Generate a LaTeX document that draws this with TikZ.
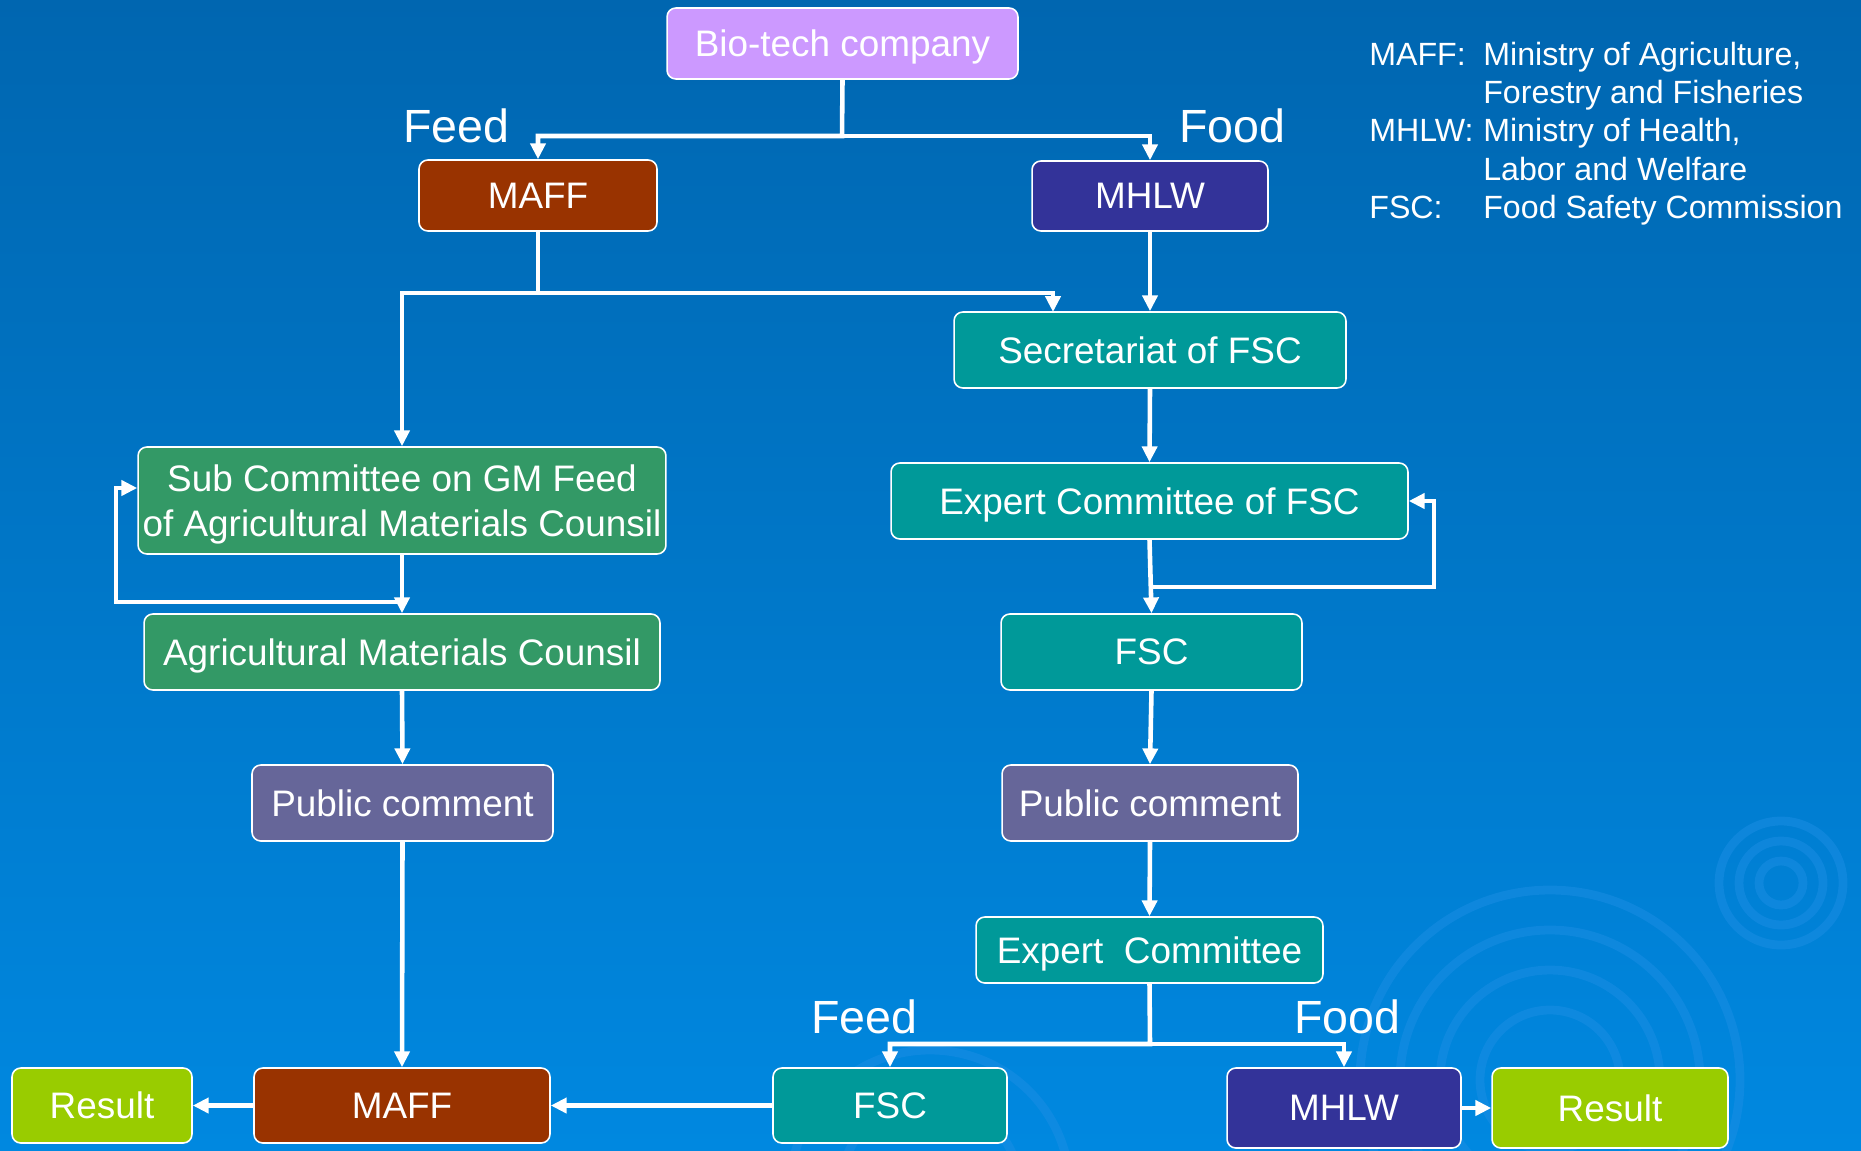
\documentclass[tikz,border=0pt]{standalone}
\usepackage{fontspec}
\setmainfont{Liberation Sans}
\usetikzlibrary{arrows.meta}
\definecolor{bgtop}{RGB}{0,102,176}
\definecolor{bgmid}{RGB}{0,110,190}
\definecolor{bgbot}{RGB}{0,136,224}
\definecolor{ripple}{RGB}{28,142,228}
\definecolor{lilac}{RGB}{204,153,255}
\definecolor{maffred}{RGB}{153,51,0}
\definecolor{mhlwblue}{RGB}{51,51,153}
\definecolor{agrigreen}{RGB}{51,153,102}
\definecolor{fscteal}{RGB}{0,153,153}
\definecolor{pubgrey}{RGB}{102,102,153}
\definecolor{resgreen}{RGB}{153,204,0}

\begin{document}
\begin{tikzpicture}[x=0.02cm,y=-0.02cm,
  box/.style={draw=white,line width=0.9pt,rounded corners=5pt,text=white,
    inner sep=1pt,align=center,text depth=0pt,font=\fontsize{21}{25.5}\selectfont},
  arr/.style={draw=white,line width=2.6pt,-{Triangle[length=9pt,width=8.5pt]}},
  tag/.style={text=white,inner sep=0pt,anchor=base west,
    font=\fontsize{26.5}{30}\selectfont},
  legend/.style={text=white,inner sep=0pt,anchor=north west,align=left,
    font=\fontsize{18.3}{21.7}\selectfont}]
% background
\shade[top color=bgtop,middle color=bgmid,bottom color=bgbot] (0,0) rectangle (1861,1150);
\useasboundingbox (0,0) rectangle (1861,1150);
\begin{scope}[draw=ripple,line width=5pt,opacity=0.5]
\foreach \r in {22,42,62} \draw (1781,883) circle (\r);
\foreach \r in {70,110,150,190} \draw (1550,1080) circle (\r);
\foreach \r in {90,140} \draw (930,1190) circle (\r);
\end{scope}
% boxes
\node[box,fill=lilac,minimum width=7.02cm,minimum height=1.42cm] (bio) at (842.5,43.5) {Bio-tech company};
\node[box,fill=maffred,minimum width=4.76cm,minimum height=1.42cm] (maff1) at (538,195.5) {MAFF};
\node[box,fill=mhlwblue,minimum width=4.72cm,minimum height=1.40cm] (mhlw1) at (1150,196) {MHLW};
\node[box,fill=fscteal,minimum width=7.84cm,minimum height=1.52cm] (sec) at (1150,350) {Secretariat of FSC};
\node[box,fill=agrigreen,minimum width=10.56cm,minimum height=2.14cm] (sub) at (402,500.5) {Sub Committee on GM Feed\\of Agricultural Materials Counsil};
\node[box,fill=agrigreen,minimum width=10.32cm,minimum height=1.52cm] (agri) at (402,652) {Agricultural Materials Counsil};
\node[box,fill=pubgrey,minimum width=6.02cm,minimum height=1.52cm] (pubL) at (402.5,803) {Public comment};
\node[box,fill=fscteal,minimum width=10.34cm,minimum height=1.52cm] (expFSC) at (1149.5,501) {Expert Committee of FSC};
\node[box,fill=fscteal,minimum width=6.02cm,minimum height=1.52cm] (fsc1) at (1151.5,652) {FSC};
\node[box,fill=pubgrey,minimum width=5.92cm,minimum height=1.52cm] (pubR) at (1150,803) {Public comment};
\node[box,fill=fscteal,minimum width=6.94cm,minimum height=1.32cm] (exp) at (1149.5,950) {Expert\ \ Committee};
\node[box,fill=resgreen,minimum width=3.60cm,minimum height=1.50cm] (resL) at (102,1105.5) {Result};
\node[box,fill=maffred,minimum width=5.92cm,minimum height=1.50cm] (maff2) at (402,1105.5) {MAFF};
\node[box,fill=fscteal,minimum width=4.68cm,minimum height=1.50cm] (fsc2) at (890,1105.5) {FSC};
\node[box,fill=mhlwblue,minimum width=4.68cm,minimum height=1.60cm] (mhlw2) at (1344,1108) {MHLW};
\node[box,fill=resgreen,minimum width=4.72cm,minimum height=1.60cm] (resR) at (1610,1108) {Result};
% labels
\node[tag] (feed1) at (403,142) {Feed};
\node[tag] (food1) at (1179,142) {Food};
\node[tag] (feed2) at (811,1033) {Feed};
\node[tag] (food2) at (1294,1033) {Food};
\node[legend] (legend) at (1369,42) {\makebox[2.28cm][l]{MAFF:}Ministry of Agriculture,\\
  \makebox[2.28cm][l]{}Forestry and Fisheries\\
  \makebox[2.28cm][l]{MHLW:}Ministry of Health,\\
  \makebox[2.28cm][l]{}Labor and Welfare\\
  \makebox[2.28cm][l]{FSC:}Food Safety Commission};
% connectors
\coordinate (split1) at (842,136);
\coordinate (split2) at (538,293);
\coordinate (secin) at (1053,312);
\coordinate (backL) at (402,602);
\coordinate (loopL) at (116,488);
\coordinate (loopR) at (1434,587);
\coordinate (split3) at (1150,1044);
\draw[arr] (bio.south) -- (split1) -| (maff1.north);
\draw[arr] (split1) -| (mhlw1.north);
\draw[arr] (maff1.south) -- (split2) -| (sub.north);
\draw[arr] (split2) -| (secin);
\draw[arr] (mhlw1.south) -- (sec.north);
\draw[arr] (sec.south) -- (expFSC.north);
\draw[arr] (sub.south) -- (agri.north);
\draw[arr] (backL) -| (loopL) -- (loopL -| sub.west);
\draw[arr] (agri.south) -- (pubL.north);
\draw[arr] (pubL.south) -- (maff2.north);
\draw[arr] (expFSC.south) -- (fsc1.north);
\draw[arr] (expFSC.south |- loopR) -| (expFSC.east -| loopR) -- (expFSC.east);
\draw[arr] (fsc1.south) -- (pubR.north);
\draw[arr] (pubR.south) -- (exp.north);
\draw[arr] (exp.south) -- (split3) -| (fsc2.north);
\draw[arr] (split3) -| (mhlw2.north);
\draw[arr] (fsc2.west) -- (maff2.east);
\draw[arr] (maff2.west) -- (resL.east);
\draw[arr] (mhlw2.east) -- (resR.west);
\end{tikzpicture}
\end{document}
